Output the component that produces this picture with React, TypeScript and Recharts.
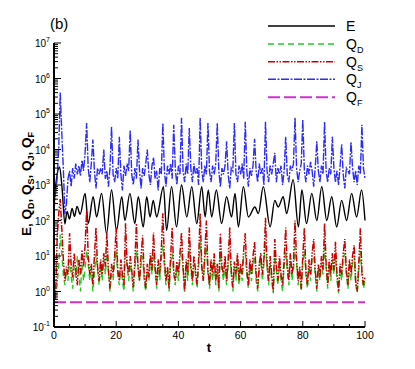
import React from "react";
import { LineChart, Line, XAxis, YAxis } from "recharts";

// layout of the plot box (page pixels)
const W = 415;
const H = 369;
const PLOT_LEFT = 54;
const PLOT_BOTTOM = 327;
const FONT = "'Liberation Sans', Arial, sans-serif";

// E: peaks and dips (t, value)
const E_T = [0, 0.8, 1.8, 2.6, 3.5, 4.2, 5, 5.8, 6.6, 7.4, 8.4, 10, 11, 12.6, 13.7, 15.3, 16.9, 18.5, 20.1, 21.8, 22.8, 24.4, 26, 27.1, 28.7, 29.8, 30.9, 31.9, 33, 35.2, 36.2, 37.8, 39.4, 41, 42.7, 44.3, 45.9, 47.5, 48.6, 49.6, 50.7, 52.2, 53.9, 55.5, 57.1, 58.2, 59.3, 60.9, 62.5, 64.6, 65.7, 67.3, 69.5, 71, 72.1, 73.7, 74.8, 76.9, 78.6, 79.7, 81.2, 82.9, 84.5, 86.1, 87.7, 89.3, 90.9, 92.5, 94.1, 95.7, 97.3, 98.9, 100];
const E_V = [300, 1500, 3200, 800, 80, 180, 110, 220, 130, 250, 150, 580, 82, 465, 126, 580, 43, 720, 53, 465, 100, 580, 82, 465, 66, 465, 126, 370, 126, 900, 53, 900, 66, 1000, 126, 900, 82, 900, 126, 720, 126, 720, 82, 465, 126, 580, 66, 900, 126, 240, 157, 900, 66, 370, 240, 465, 157, 1400, 66, 720, 82, 580, 100, 900, 100, 465, 66, 370, 100, 580, 126, 720, 100];

// Q_D, Q_S, Q_J sampled every half time unit, t = 0 .. 100
const STEP = 0.5;
const QD = [
  1, 0.8, 1.5, 5, 40, 12, 3, 1.5, 4, 2,
  8, 3, 1.2, 5, 2.5, 10, 3, 1, 6, 2,
  4, 14, 6, 2, 5, 1, 3, 12, 4, 1.5,
  5, 2, 8, 3, 12, 4, 1, 3, 2, 7,
  14, 3, 1.5, 5, 2, 1, 15, 5, 2, 6,
  3, 1, 4, 14, 5, 2, 6, 10, 2, 1,
  4, 2, 8, 3, 12, 4, 1.2, 5, 2, 8,
  20, 5, 1.5, 4, 1, 6, 12, 3, 1.5, 5,
  2, 8, 14, 4, 1, 5, 2, 15, 4, 1.5,
  6, 3, 1.2, 5, 25, 6, 2, 8, 18, 3,
  1.2, 5, 2, 8, 1.5, 4, 1, 12, 4, 2,
  6, 1.5, 5, 14, 3, 1, 5, 2, 8, 1.5,
  4, 2, 10, 12, 3, 1.2, 5, 2, 6, 10,
  2, 1, 4, 8, 2, 6, 25, 5, 1.5, 6,
  2, 0.9, 10, 4, 1.5, 6, 2, 1, 5, 14,
  4, 1.5, 8, 2, 4, 18, 6, 1.5, 4, 1,
  6, 14, 3, 1.2, 5, 2, 8, 10, 3, 1,
  4, 2, 6, 3, 18, 5, 1.2, 5, 2, 8,
  3, 10, 2, 0.9, 4, 2, 8, 12, 3, 1.2,
  5, 2, 6, 10, 1.5, 0.9, 4, 14, 3, 1.2,
  2,
];
const QS = [
  2, 0.6, 30, 150, 400, 60, 8, 2, 5, 3,
  44, 6, 2.5, 12, 4, 1.5, 8, 3, 15, 5,
  20, 200, 10, 3, 6, 1.5, 10, 63, 5, 2,
  8, 3, 12, 5, 46, 4, 1.2, 6, 3, 10,
  63, 4, 2, 8, 3, 1.5, 83, 6, 3, 10,
  4, 1.3, 7, 83, 5, 2, 10, 38, 3, 1.2,
  6, 2.5, 12, 4, 46, 5, 1.5, 8, 3, 15,
  160, 8, 2, 5, 1.2, 10, 63, 4, 2, 7,
  3, 12, 46, 5, 1, 8, 3, 63, 6, 2,
  10, 4, 1.5, 8, 160, 5, 2, 12, 100, 4,
  1.5, 8, 3, 12, 2, 6, 1.2, 44, 5, 3,
  10, 2, 8, 63, 4, 1.3, 7, 3, 12, 2,
  6, 3, 15, 44, 4, 1.5, 8, 3, 10, 25,
  3, 1.2, 6, 12, 3, 8, 120, 6, 2, 10,
  3, 1, 30, 5, 2, 10, 3, 1.5, 8, 63,
  5, 2, 12, 3, 6, 100, 8, 2, 5, 1.2,
  10, 63, 4, 1.5, 8, 3, 12, 30, 4, 1.2,
  6, 2.5, 10, 4, 83, 6, 1.5, 8, 3, 12,
  4, 25, 3, 1, 6, 3, 12, 30, 4, 1.5,
  8, 3, 10, 20, 2, 1, 6, 60, 4, 1.5,
  2.5,
];
const QJ = [
  200, 600, 1500, 10000, 400000, 30000, 3000, 150, 300, 1500,
  2500, 900, 3000, 1500, 4000, 2000, 3500, 1800, 5000, 2500,
  8000, 56000, 3000, 1200, 4000, 19000, 2500, 800, 3000, 2000,
  3000, 2000, 10000, 1500, 2500, 900, 3000, 44000, 2000, 1200,
  3000, 1500, 23000, 2000, 700, 3500, 1800, 4000, 2500, 35000,
  2000, 1000, 3000, 1500, 19000, 2500, 800, 3000, 1800, 4000,
  10000, 2000, 1000, 3500, 6000, 1500, 2500, 700, 3000, 2000,
  56000, 2500, 900, 3500, 2000, 4000, 1500, 50000, 3000, 1000,
  3500, 2000, 78000, 2500, 1200, 4000, 2000, 40000, 3000, 1200,
  4000, 2000, 3000, 1000, 78000, 2500, 1200, 3500, 2000, 56000,
  2500, 1200, 3500, 2000, 4000, 56000, 2500, 900, 3000, 2000,
  3500, 17000, 2000, 800, 3000, 2500, 56000, 2000, 1200, 3500,
  2000, 4000, 1500, 60000, 2500, 900, 3000, 1800, 3500, 20000,
  2500, 1200, 4000, 2000, 3000, 1000, 60000, 2500, 1200, 3500,
  2000, 4000, 8000, 1200, 3000, 2000, 3500, 1000, 2500, 23000,
  2000, 1200, 3500, 2500, 4000, 78000, 3000, 1200, 2500, 4000,
  70000, 2500, 1200, 3500, 2000, 4500, 2500, 900, 3000, 17000,
  2500, 1200, 3500, 2000, 60000, 2500, 1200, 3000, 2000, 23000,
  3000, 1200, 2500, 1000, 3500, 14000, 2000, 800, 3000, 2500,
  2000, 16000, 3000, 1200, 2500, 1000, 3500, 2000, 50000, 3000,
  1500,
];

// Q_F stays flat
const QF_T = [0, 100];
const QF_V = [0.5, 0.5];

const X_TICKS = [0, 5, 10, 15, 20, 25, 30, 35, 40, 45, 50, 55, 60, 65, 70, 75, 80, 85, 90, 95, 100];
const DECADES = [0.1, 1, 10, 100, 1000, 10000, 100000, 1000000];
const MINOR = [1, 2, 3, 4, 5, 6, 7, 8, 9];
const Y_TICKS = [...DECADES.flatMap((d) => MINOR.map((m) => d * m)), 10000000];

const SERIES = [
  { key: "e", label: "E", sub: "", color: "#000000", dash: undefined, width: 1.4 },
  { key: "qd", label: "Q", sub: "D", color: "#22cc22", dash: "6 4", width: 1.4 },
  { key: "qs", label: "Q", sub: "S", color: "#cc0000", dash: "7 1.5 1.5 1.5 1.5 1.5", width: 1.5 },
  { key: "qj", label: "Q", sub: "J", color: "#2b2bff", dash: "8 1.5 2 1.5", width: 1.4 },
  { key: "qf", label: "Q", sub: "F", color: "#cc33cc", dash: "12 4", width: 2 },
];
const LEGEND_Y = [26, 44, 61.7, 79.3, 97.3];

const gridData = QD.map((v, i) => ({ t: i * STEP, qd: v, qs: QS[i], qj: QJ[i] }));
const eData = E_T.map((t, i) => ({ t, e: E_V[i] }));
const fData = QF_T.map((t, i) => ({ t, qf: QF_V[i] }));

function YTick(props: any) {
  const { payload } = props;
  const v = payload.value;
  const y = payload.coordinate;
  const exp = Math.round(Math.log10(v));
  const major = Math.abs(v - Math.pow(10, exp)) < 1e-6 * v;
  return (
    <g>
      <line x1={PLOT_LEFT} x2={PLOT_LEFT + (major ? 7 : 4)} y1={y} y2={y} stroke="#000" strokeWidth={1} />
      {major && (
        <text x={PLOT_LEFT - 4} y={y + 4} textAnchor="end" fontSize={10} fontFamily={FONT} fill="#000">
          10<tspan dy={-5} fontSize={7}>{exp}</tspan>
        </text>
      )}
    </g>
  );
}

function XTick(props: any) {
  const { payload } = props;
  const x = payload.coordinate;
  const major = payload.value % 20 === 0;
  return (
    <g>
      <line x1={x} x2={x} y1={PLOT_BOTTOM} y2={PLOT_BOTTOM - (major ? 6 : 3)} stroke="#000" strokeWidth={1} />
      {major && (
        <text x={x} y={PLOT_BOTTOM + 12} textAnchor="middle" fontSize={10.5} fontFamily={FONT} fill="#000">
          {payload.value}
        </text>
      )}
    </g>
  );
}

export default function App() {
  return (
    <div style={{ position: "absolute", left: 0, top: 0, width: W, height: H, background: "#fff" }}>
      <LineChart width={W} height={H} data={gridData} margin={{ top: 43, right: 50, bottom: 12, left: 14 }}>
        <XAxis
          type="number"
          dataKey="t"
          domain={[0, 100]}
          ticks={X_TICKS}
          interval={0}
          height={30}
          tickLine={false}
          axisLine={{ stroke: "#000", strokeWidth: 2 }}
          tick={(p: any) => <XTick {...p} />}
        />
        <YAxis
          scale="log"
          domain={[0.1, 10000000]}
          allowDataOverflow
          ticks={Y_TICKS}
          interval={0}
          width={40}
          tickLine={false}
          axisLine={{ stroke: "#000", strokeWidth: 2 }}
          tick={(p: any) => <YTick {...p} />}
        />
        <Line data={eData} dataKey="e" type="monotone" stroke={SERIES[0].color} strokeWidth={SERIES[0].width} dot={false} isAnimationActive={false} />
        <Line dataKey="qd" type="linear" stroke={SERIES[1].color} strokeWidth={SERIES[1].width} strokeDasharray={SERIES[1].dash} dot={false} isAnimationActive={false} />
        <Line dataKey="qs" type="linear" stroke={SERIES[2].color} strokeWidth={SERIES[2].width} strokeDasharray={SERIES[2].dash} dot={false} isAnimationActive={false} />
        <Line dataKey="qj" type="linear" stroke={SERIES[3].color} strokeWidth={SERIES[3].width} strokeDasharray={SERIES[3].dash} dot={false} isAnimationActive={false} />
        <Line data={fData} dataKey="qf" type="linear" stroke={SERIES[4].color} strokeWidth={SERIES[4].width} strokeDasharray={SERIES[4].dash} dot={false} isAnimationActive={false} />
      </LineChart>
      <svg width={W} height={H} style={{ position: "absolute", left: 0, top: 0, pointerEvents: "none" }} fontFamily={FONT}>
        <text x={50} y={29} fontSize={15} fill="#000">(b)</text>
        {SERIES.map((s, i) => (
          <g key={s.key}>
            <line x1={268} x2={335} y1={LEGEND_Y[i]} y2={LEGEND_Y[i]} stroke={s.color} strokeWidth={s.width} strokeDasharray={s.dash} />
            <text x={346} y={LEGEND_Y[i] + 5} fontSize={14} fill="#000">
              {s.label}
              {s.sub && <tspan dy={4} fontSize={9}>{s.sub}</tspan>}
            </text>
          </g>
        ))}
        <text x={209} y={352} textAnchor="middle" fontSize={13} fontWeight="bold" fill="#000">t</text>
        <text x={31} y={184} transform="rotate(-90, 31, 184)" textAnchor="middle" fontSize={13.5} fontWeight="bold" fill="#000">
          E, Q<tspan dy={3} fontSize={9}>D</tspan>
          <tspan dy={-3}>, Q</tspan><tspan dy={3} fontSize={9}>S</tspan>
          <tspan dy={-3}>, Q</tspan><tspan dy={3} fontSize={9}>J</tspan>
          <tspan dy={-3}>, Q</tspan><tspan dy={3} fontSize={9}>F</tspan>
        </text>
      </svg>
    </div>
  );
}
